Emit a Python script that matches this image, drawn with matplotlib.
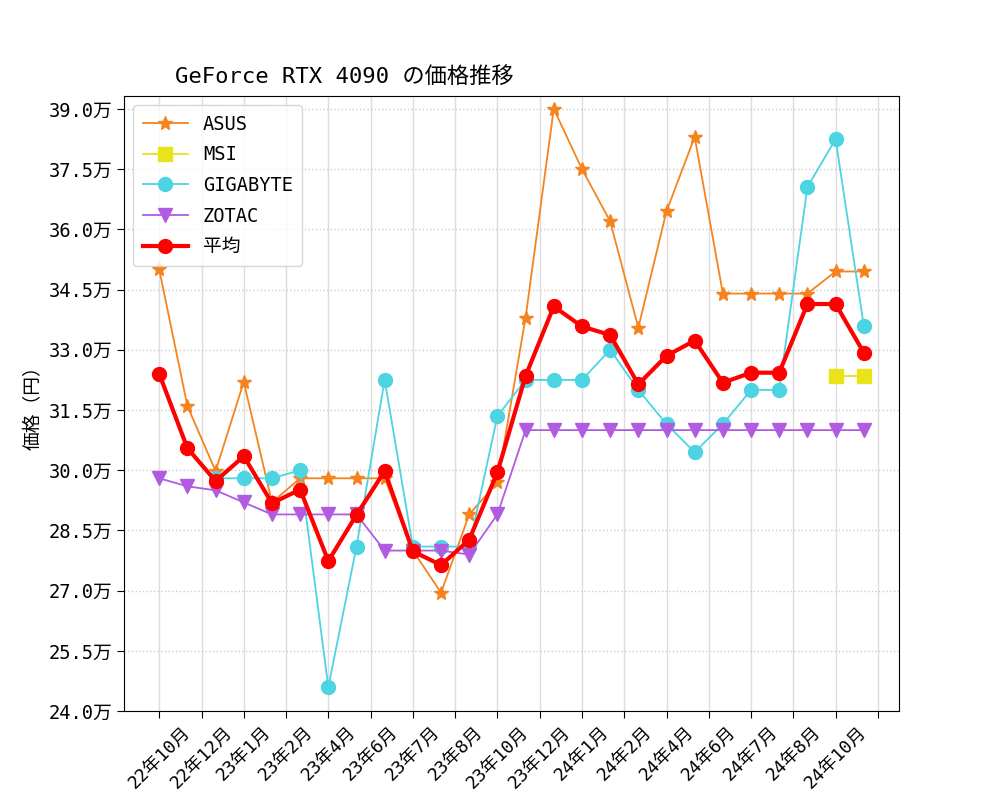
import numpy as np
import matplotlib
matplotlib.use("Agg")
import matplotlib.pyplot as plt
from matplotlib.ticker import FuncFormatter

plt.rcParams['font.family'] = ['DejaVu Sans Mono', 'Noto Sans CJK JP']

nan = np.nan
# monthly prices (yen), 22年10月 .. 24年11月
asus = [350000, 316000, 299800, 322000, 292000, 298000, 298000, 298000, 298000, 280000,
        269500, 289000, 297000, 338000, 390000, 375000, 362000, 335500, 364500, 383000,
        344000, 344000, 344000, 344000, 349500, 349500]
msi = [nan] * 24 + [323500, 323500]
gigabyte = [nan, nan, 298000, 298000, 298000, 300000, 246000, 281000, 322500, 281000,
            281000, 281000, 313500, 322500, 322500, 322500, 330000, 320000, 311500, 304500,
            311500, 320000, 320000, 370500, 382500, 336000]
zotac = [298000, 296000, 295000, 292000, 289000, 289000, 289000, 289000, 280000, 280000,
         280000, 279000, 289000] + [310000] * 13
average = [324000, 305500, 297300, 303500, 291800, 295200, 277400, 288900, 299800, 279800,
           276400, 282700, 299500, 323500, 340800, 335800, 333700, 321400, 328500, 332300,
           321800, 324300, 324300, 341400, 341400, 329300]

tick_labels = ["22年10月", "22年12月", "23年1月", "23年2月", "23年4月", "23年6月",
               "23年7月", "23年8月", "23年10月", "23年12月", "24年1月", "24年2月",
               "24年4月", "24年6月", "24年7月", "24年8月", "24年10月", ""]

x = np.arange(len(asus))

fig, ax = plt.subplots(figsize=(10, 8), dpi=100)
fig.subplots_adjust(left=0.124, right=0.899, top=0.88, bottom=0.111)

ax.plot(x, asus, color='#f5841f', marker='*', markersize=10, lw=1.3, label='ASUS')
ax.plot(x, msi, color='#ebe31a', marker='s', markersize=9.5, lw=1.3, label='MSI')
ax.plot(x, gigabyte, color='#4dd4e2', marker='o', markersize=10, lw=1.3, label='GIGABYTE')
ax.plot(x, zotac, color='#b05be0', marker='v', markersize=10, lw=1.3, label='ZOTAC')
ax.plot(x, average, color='red', marker='o', markersize=10, lw=3, label='平均')

ax.set_xticks(np.arange(0, 26.5, 1.5))
ax.set_xticklabels(tick_labels, rotation=45, fontsize=13)
ax.set_yticks(np.arange(240000, 390001, 15000))
ax.yaxis.set_major_formatter(FuncFormatter(lambda v, p: "{:.1f}万".format(v / 10000)))
ax.tick_params(axis='y', labelsize=13.5)
ax.tick_params(length=5)
ax.set_ylim(240000, 393200)
ax.set_xlim(-1.25, 26.25)

ax.grid(axis='x', color='#dddddd', lw=1)
ax.grid(axis='y', color='#cccccc', ls=':', lw=1)

ax.set_ylabel('価格（円）', fontsize=13.5)
ax.text(0.066, 1.015, 'GeForce RTX 4090 の価格推移', transform=ax.transAxes,
        ha='left', va='bottom', fontsize=16)

ax.legend(loc='upper left', fontsize=13.5, handlelength=2.4, labelspacing=0.62,
          borderpad=0.5)

fig.savefig('out.png')
